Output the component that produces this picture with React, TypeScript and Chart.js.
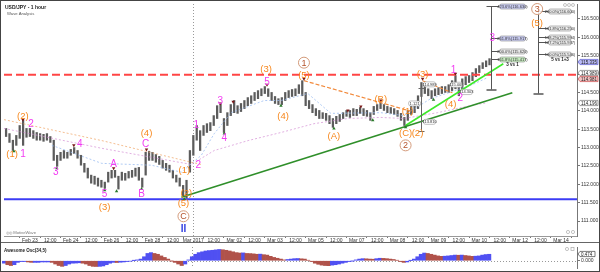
import React, { useEffect, useRef } from 'react';
import { Chart, registerables } from 'chart.js';

Chart.register(...registerables);

const FONT = "'Liberation Sans', Arial, sans-serif";

// ---------- time axis (hour 0 = "Feb 23" label, one label every 12 hours)
const timeLabels = ['Feb 23', '12:00', 'Feb 24', '12:00', 'Feb 26', '12:00', 'Feb 28', '12:00', 'Mar 2017', '12:00', 'Mar 02', '12:00', 'Mar 03', '12:00', 'Mar 05', '12:00', 'Mar 07', '12:00', 'Mar 08', '12:00', 'Mar 09', '12:00', 'Mar 10', '12:00', 'Mar 12', '12:00', 'Mar 14'];
const labelStepHours = 12;
const hourMin = -15.22;
const hourMax = 321.4;
const monthStartHour = 96;

// ---------- price bars (one bar every 2 hours)
const firstBarHour = -14;
const barStepHours = 2;

const barHigh = [
  113.52, 113.38, 113.20, 113.33, 113.60, 113.74, 113.52, 113.52, 113.46, 113.41,
  113.38, 113.36, 113.38, 113.30, 113.20, 112.79, 112.87, 112.92, 112.87, 112.95,
  113.00, 112.92, 112.79, 112.57, 112.44, 112.25, 112.22, 112.17, 112.11, 112.06,
  112.33, 112.38, 112.38, 112.22, 112.33, 112.30, 112.35, 112.38, 112.44, 112.46,
  112.17, 112.87, 112.90, 112.87, 112.81, 112.76, 112.65, 112.57, 112.52, 112.38,
  112.25, 112.17, 111.97, 112.11, 112.92, 113.33, 113.60, 113.46, 113.60, 113.65,
  113.68, 113.87, 114.14, 114.20, 113.79, 113.95, 114.17, 114.28, 114.14, 114.20,
  114.28, 114.36, 114.41, 114.50, 114.55, 114.60, 114.66, 114.60, 114.50, 114.39,
  114.33, 114.36, 114.50, 114.55, 114.58, 114.60, 114.71, 114.82, 114.50, 114.28,
  114.17, 114.06, 114.01, 113.95, 113.93, 113.87, 113.79, 113.85, 113.90, 113.95,
  114.01, 114.01, 114.06, 114.04, 114.09, 114.06, 114.01, 113.95, 114.12, 114.17,
  114.22, 114.17, 114.12, 114.09, 114.06, 114.01, 113.93, 113.82, 114.01, 114.12,
  114.17, 114.41, 114.77, 114.69, 114.60, 114.55, 114.60, 114.63, 114.66, 114.66,
  114.71, 114.82, 114.96, 114.71, 114.87, 114.93, 114.96, 115.04, 115.15, 115.23,
  115.31, 115.36, 115.42,
];
const barLow = [
  113.30, 113.14, 112.92, 113.06, 113.25, 113.06, 113.28, 113.30, 113.25, 113.20,
  113.20, 113.17, 113.20, 113.14, 112.65, 112.49, 112.65, 112.71, 112.71, 112.79,
  112.84, 112.71, 112.52, 112.33, 112.17, 112.03, 112.00, 111.95, 111.92, 111.89,
  112.06, 112.17, 112.19, 111.87, 112.11, 112.11, 112.17, 112.19, 112.22, 112.11,
  111.92, 112.25, 112.65, 112.65, 112.60, 112.54, 112.44, 112.38, 112.33, 112.17,
  112.06, 111.95, 111.68, 111.62, 112.33, 112.79, 113.20, 112.92, 113.33, 113.41,
  113.46, 113.60, 113.79, 113.95, 113.41, 113.60, 113.87, 113.95, 113.93, 113.98,
  114.06, 114.14, 114.20, 114.28, 114.33, 114.41, 114.47, 114.39, 114.28, 114.20,
  114.17, 114.17, 114.28, 114.36, 114.39, 114.41, 114.47, 114.41, 114.14, 114.06,
  113.95, 113.87, 113.79, 113.79, 113.74, 113.65, 113.55, 113.65, 113.71, 113.79,
  113.85, 113.82, 113.87, 113.87, 113.93, 113.87, 113.85, 113.74, 113.90, 114.01,
  114.06, 114.01, 113.95, 113.93, 113.90, 113.85, 113.74, 113.60, 113.74, 113.90,
  113.95, 114.06, 114.39, 114.47, 114.41, 114.33, 114.41, 114.44, 114.47, 114.50,
  114.50, 114.55, 114.60, 114.41, 114.60, 114.71, 114.77, 114.82, 114.93, 115.04,
  115.15, 115.20, 115.25,
];

// ---------- Awesome Oscillator (34,5), same bars
const aoValues = [
  -0.18, -0.29, -0.35, -0.29, -0.12, -0.06, -0.06, -0.09, -0.12, -0.12,
  -0.12, -0.09, -0.09, -0.09, -0.12, -0.24, -0.35, -0.41, -0.35, -0.24,
  -0.18, -0.17, -0.15, -0.18, -0.24, -0.35, -0.41, -0.42, -0.41, -0.38,
  -0.29, -0.18, -0.12, -0.13, -0.11, -0.09, -0.06, -0.03, 0.01, 0.06,
  0.12, 0.29, 0.53, 0.59, 0.53, 0.47, 0.35, 0.24, 0.12, -0.01,
  -0.12, -0.24, -0.35, -0.24, 0.06, 0.29, 0.47, 0.59, 0.65, 0.71,
  0.74, 0.76, 0.79, 0.82, 0.80, 0.76, 0.71, 0.65, 0.59, 0.56,
  0.57, 0.53, 0.52, 0.50, 0.47, 0.48, 0.44, 0.41, 0.32, 0.24,
  0.18, 0.12, 0.06, 0.09, 0.12, 0.15, 0.16, 0.14, 0.12, 0.03,
  -0.06, -0.18, -0.26, -0.32, -0.35, -0.36, -0.32, -0.29, -0.24, -0.18,
  -0.12, -0.06, -0.01, 0.06, 0.12, 0.15, 0.14, 0.12, 0.11, 0.15,
  0.18, 0.17, 0.15, 0.12, 0.09, 0.03, -0.06, -0.12, -0.09, 0.01,
  0.12, 0.29, 0.47, 0.56, 0.53, 0.47, 0.41, 0.35, 0.32, 0.33,
  0.35, 0.38, 0.41, 0.40, 0.41, 0.38, 0.35, 0.32, 0.33, 0.35,
  0.41, 0.45, 0.47,
];
const aoMin = -0.53;
const aoMax = 1.0;
const aoCurrent = 0.474;

// ---------- price axis
const priceTicks = [111, 111.5, 112, 112.5, 113, 113.5, 114, 114.5, 115, 115.5, 116, 116.5];
const priceMin = 110.593;
const priceMax = 116.907;

const resistanceLevel = 114.98;
const supportLevel = 111.595;

// moving averages [hour, price]
const maOrange = [[-15.2, 113.76], [42.2, 113.19], [94.8, 112.6], [100.7, 112.54]];
const maPurple = [[-15.2, 113.52], [42.2, 112.98], [94.8, 112.54], [108.3, 112.92], [128.2, 113.19], [147.5, 113.41], [166.9, 113.65], [186.8, 113.79], [206.1, 113.82], [219.6, 113.79], [239.5, 113.95], [258.8, 114.14], [268.7, 114.22]];
const maBlue = [[12.9, 113.06], [42.2, 112.57], [71.4, 112.52], [89.0, 112.33], [100.7, 112.79], [108.3, 113.38], [118.3, 113.95], [137.6, 114.28], [147.5, 114.28], [163.3, 114.47], [176.8, 113.93], [206.1, 113.95], [219.6, 113.87], [235.4, 114.33], [258.8, 114.69], [268.7, 114.9]];

// trend lines [hour, price]
const trendMain = [[89.0, 111.65], [283.4, 114.49]];
const trendFast = [[220.7, 113.6], [278.1, 115.28]];
const trendCorrA = [[161.0, 114.82], [223.7, 113.99]];
const trendCorrB = [[230.7, 114.82], [248.2, 114.49]];

// swing markers [hour, price]
const highMarks = [[-4.1, 113.76], [25.8, 113.06], [49.2, 112.44], [68.5, 112.95], [111.8, 114.2], [119.4, 114.25], [139.3, 114.71], [161.0, 114.87], [186.8, 114.01], [194.4, 114.12], [206.1, 114.28], [230.7, 114.87], [250.0, 115.01]];
const lowMarks = [[-9.4, 112.9], [15.8, 112.44], [43.9, 111.84], [50.9, 111.81], [65.6, 111.87], [90.7, 111.6], [114.2, 113.38], [147.5, 114.14], [178.6, 113.52], [201.4, 113.74], [220.7, 113.55], [237.1, 114.3]];

// wave labels [text, hour, price, kind] kind: o=orange, m=magenta, c=circled, b=blue
const waveLabels = [
  ['(1)', -10.5, 112.84, 'o'], ['1', -4.1, 112.84, 'm'], ['(2)', -4.1, 113.87, 'o'], ['2', 0.6, 113.65, 'm'],
  ['3', 15.2, 112.35, 'm'], ['4', 29.3, 113.11, 'm'], ['5', 43.9, 111.73, 'm'], ['(3)', 43.9, 111.38, 'o'],
  ['A', 49.2, 112.57, 'm'], ['B', 65.6, 111.73, 'm'], ['C', 67.9, 113.11, 'm'], ['(4)', 68.5, 113.41, 'o'],
  ['(1)', 90.7, 112.38, 'o'], ['(2)', 91.9, 111.78, 'o'], ['(5)', 90.2, 111.49, 'o'], ['C', 90.2, 111.13, 'c'], ['II', 90.2, 110.78, 'b'],
  ['1', 97.8, 113.63, 'm'], ['2', 98.9, 112.54, 'm'], ['3', 111.8, 114.28, 'm'], ['4', 114.2, 113.28, 'm'],
  ['(3)', 138.8, 115.14, 'o'], ['5', 139.3, 114.79, 'm'], ['(4)', 148.7, 113.87, 'o'],
  ['1', 161.0, 115.31, 'c'], ['(5)', 161.0, 114.98, 'o'], ['(A)', 178.6, 113.33, 'o'], ['(B)', 206.1, 114.33, 'o'],
  ['(1)', 221.9, 114.01, 'o'], ['(C)', 220.7, 113.41, 'o'], ['(2)', 227.7, 113.41, 'o'], ['2', 220.7, 113.06, 'c'],
  ['(3)', 230.7, 115.01, 'o'], ['(4)', 247.1, 114.2, 'o'], ['1', 248.8, 115.12, 'm'], ['2', 252.9, 114.36, 'm'],
  ['3', 271.7, 115.985, 'm'], ['3', 298.0, 116.77, 'c'], ['(5)', 298.0, 116.39, 'o'],
];

// Fibonacci projection tools
const fibLeftHour = 271.1;
const fibLeftTop = 116.85;
const fibLeftBottom = 114.58;
const fibLeftLevels = [[116.85, '423.6%(116.630)', '#c9ccf2'], [115.985, '261.8%(115.917)', '#c9ccf2'], [115.63, '200.0%(115.620)', '#ececec'], [115.42, '161.8%(115.417)', '#c9efc2']];
const fibLeftNote = ['3 vs 1', 115.255];
const fibRightHour = 298.6;
const fibRightTop = 116.72;
const fibRightBottom = 114.47;
const fibRightLevels = [[116.72, '200.0%(116.600)', '#ececec'], [116.26, '161.8%(116.250)', '#ececec'], [116.01, '138.2%(115.994)', '#ececec'], [115.88, '127.2%(115.937)', '#ececec'], [115.55, '100.0%(115.546)', '#ececec']];
const fibRightNote = ['5 vs 1+3', 115.39];

// small price boxes in wave (3)/(4)
const measureHour = 229.5;
const measureTop = 114.63;
const measureBottom = 113.46;
const priceBoxes = [[234.8, 114.72, '114.989'], [226.0, 114.2, '1.121'], [234.8, 113.7, '113.810'], [250.6, 114.71, '115.008'], [256.4, 114.51, '114.303']];

// tags on the price axis [price, text, fill, stroke]
const axisTags = [[115.335, '115.335', '#b9b9f5', '#5a5ad0'], [115.04, '114.989', '#ffffff', '#777777'], [114.87, '114.981', '#f3c3c3', '#cc4a4a'], [114.2, '114.196', '#ffffff', '#777777']];

const ORANGE = '#f7871c';
const MAGENTA = '#f23cf2';
const BROWN = '#b4532b';

function roundRect(ctx, x, y, w, h, r) {
  ctx.beginPath();
  ctx.moveTo(x + r, y);
  ctx.lineTo(x + w - r, y);
  ctx.arcTo(x + w, y, x + w, y + r, r);
  ctx.lineTo(x + w, y + h - r);
  ctx.arcTo(x + w, y + h, x + w - r, y + h, r);
  ctx.lineTo(x + r, y + h);
  ctx.arcTo(x, y + h, x, y + h - r, r);
  ctx.lineTo(x, y + r);
  ctx.arcTo(x, y, x + r, y, r);
  ctx.closePath();
}

function drawBox(ctx, x, yc, w, text, fill, stroke) {
  const h = 5;
  roundRect(ctx, x, yc - h / 2, w, h, 2);
  ctx.fillStyle = fill;
  ctx.fill();
  ctx.strokeStyle = stroke;
  ctx.lineWidth = 0.6;
  ctx.stroke();
  ctx.fillStyle = '#333';
  ctx.font = `4px ${FONT}`;
  ctx.textAlign = 'center';
  ctx.textBaseline = 'middle';
  ctx.fillText(text, x + w / 2, yc + 0.3);
}

function drawFib(ctx, px, py, hour, top, bottom, levels, note, boxOffset, boxWidth, topCap) {
  const x0 = Math.round(px(hour)) + 0.5;
  ctx.strokeStyle = '#555';
  ctx.lineWidth = 1;
  ctx.setLineDash([]);
  ctx.beginPath();
  ctx.moveTo(x0, py(top));
  ctx.lineTo(x0, py(bottom));
  if (topCap) {
    ctx.moveTo(x0 - 5, Math.round(py(top)) + 0.5);
    ctx.lineTo(x0 + 5, Math.round(py(top)) + 0.5);
  }
  ctx.stroke();
  ctx.lineWidth = 1.5;
  ctx.beginPath();
  ctx.moveTo(x0 - 5, Math.round(py(bottom)));
  ctx.lineTo(x0 + 5, Math.round(py(bottom)));
  ctx.stroke();
  levels.forEach(([p, text, fill]) => {
    const y = Math.round(py(p)) + 0.5;
    ctx.strokeStyle = '#555';
    ctx.lineWidth = 1;
    ctx.beginPath();
    ctx.moveTo(x0, y);
    ctx.lineTo(x0 + boxOffset, y);
    ctx.stroke();
    drawBox(ctx, x0 + boxOffset, y, boxWidth, text, fill, '#8a8a8a');
  });
  ctx.fillStyle = '#222';
  ctx.font = `bold 4.5px ${FONT}`;
  ctx.textAlign = 'center';
  ctx.textBaseline = 'middle';
  ctx.fillText(note[0], x0 + boxOffset + boxWidth / 2, py(note[1]));
}

const mainOverlay = {
  id: 'mainOverlay',
  beforeDatasetsDraw(chart) {
    const { ctx, chartArea: a, scales } = chart;
    const x = Math.round(scales.x.getPixelForValue(monthStartHour)) + 0.5;
    ctx.save();
    ctx.strokeStyle = '#9a9a9a';
    ctx.lineWidth = 1;
    ctx.setLineDash([1, 2]);
    ctx.beginPath();
    ctx.moveTo(x, a.top);
    ctx.lineTo(x, a.bottom);
    ctx.stroke();
    ctx.restore();
  },
  afterDatasetsDraw(chart) {
    const { ctx, chartArea: a, scales } = chart;
    const px = (h) => scales.x.getPixelForValue(h);
    const py = (p) => scales.y.getPixelForValue(p);
    ctx.save();

    // title
    ctx.textAlign = 'left';
    ctx.textBaseline = 'alphabetic';
    ctx.fillStyle = '#222';
    ctx.font = `bold 5px ${FONT}`;
    ctx.fillText('USD/JPY - 1 hour', a.left + 1, a.top + 5);
    ctx.fillStyle = '#555';
    ctx.font = `4.2px ${FONT}`;
    ctx.fillText('Wave Analysis', a.left + 3, a.top + 10.5);
    ctx.fillStyle = '#777';
    ctx.font = `4.2px ${FONT}`;
    ctx.fillText('\u25CE\u25CE MotiveWave', a.left + 2, a.bottom - 2);

    // measurement in wave (3)
    const mx = Math.round(px(measureHour)) + 0.5;
    ctx.strokeStyle = '#666';
    ctx.lineWidth = 1;
    ctx.beginPath();
    ctx.moveTo(mx, py(measureTop));
    ctx.lineTo(mx, py(measureBottom));
    ctx.moveTo(mx - 3, Math.round(py(measureTop)) + 0.5);
    ctx.lineTo(mx + 3, Math.round(py(measureTop)) + 0.5);
    ctx.moveTo(mx - 3, Math.round(py(measureBottom)) + 0.5);
    ctx.lineTo(mx + 3, Math.round(py(measureBottom)) + 0.5);
    ctx.stroke();
    priceBoxes.forEach(([h, p, t]) => {
      drawBox(ctx, px(h) - 6, py(p), 12, t, '#ffffff', '#999');
    });

    // fib tools
    drawFib(ctx, px, py, fibLeftHour, fibLeftTop, fibLeftBottom, fibLeftLevels, fibLeftNote, 8, 26, true);
    drawFib(ctx, px, py, fibRightHour, fibRightTop, fibRightBottom, fibRightLevels, fibRightNote, 10, 23, false);

    // wave labels
    waveLabels.forEach(([t, h, p, k]) => {
      const x = px(h);
      const y = py(p);
      ctx.textAlign = 'center';
      ctx.textBaseline = 'middle';
      if (k === 'c') {
        ctx.fillStyle = 'rgba(255,255,255,0.85)';
        ctx.beginPath();
        ctx.arc(x, y, 5.5, 0, Math.PI * 2);
        ctx.fill();
        ctx.strokeStyle = '#d39a7a';
        ctx.lineWidth = 1;
        ctx.stroke();
        ctx.fillStyle = BROWN;
        ctx.font = `9px ${FONT}`;
        ctx.fillText(t, x, y + 0.5);
      } else if (k === 'o') {
        ctx.fillStyle = ORANGE;
        ctx.font = `9.5px ${FONT}`;
        ctx.fillText(t, x, y + 0.5);
      } else if (k === 'm') {
        ctx.fillStyle = MAGENTA;
        ctx.font = `10px ${FONT}`;
        ctx.fillText(t, x, y + 0.5);
      } else {
        ctx.fillStyle = '#3340e0';
        ctx.font = `bold 10px ${FONT}`;
        ctx.fillText(t, x, y + 0.5);
      }
    });

    // corner icons
    ctx.strokeStyle = '#aaa';
    ctx.lineWidth = 0.7;
    [a.right - 12, a.right - 8, a.right - 4].forEach((cx) => {
      ctx.beginPath();
      ctx.arc(cx, a.top + 1, 1.5, 0, Math.PI * 2);
      ctx.stroke();
    });
    [a.right - 9, a.right - 4].forEach((cx) => {
      ctx.beginPath();
      ctx.arc(cx, a.bottom - 4, 1.6, 0, Math.PI * 2);
      ctx.stroke();
    });

    // axis tags
    axisTags.forEach(([p, t, fill, stroke]) => {
      const y = Math.round(py(p));
      ctx.beginPath();
      ctx.moveTo(a.right + 1, y);
      ctx.lineTo(a.right + 3, y - 2.6);
      ctx.lineTo(a.right + 21, y - 2.6);
      ctx.lineTo(a.right + 21, y + 2.6);
      ctx.lineTo(a.right + 3, y + 2.6);
      ctx.closePath();
      ctx.fillStyle = fill;
      ctx.fill();
      ctx.strokeStyle = stroke;
      ctx.lineWidth = 0.7;
      ctx.stroke();
      ctx.fillStyle = '#222';
      ctx.font = `4.5px ${FONT}`;
      ctx.textAlign = 'left';
      ctx.textBaseline = 'middle';
      ctx.fillText(t, a.right + 4, y + 0.3);
    });
    ctx.restore();
  },
};

const aoOverlay = {
  id: 'aoOverlay',
  beforeDatasetsDraw(chart) {
    const { ctx, chartArea: a, scales } = chart;
    const y0 = Math.round(scales.y.getPixelForValue(0)) + 0.5;
    const xm = Math.round(scales.x.getPixelForValue(monthStartHour)) + 0.5;
    ctx.save();
    ctx.strokeStyle = '#999';
    ctx.lineWidth = 1;
    ctx.setLineDash([1, 2]);
    ctx.beginPath();
    ctx.moveTo(a.left, y0);
    ctx.lineTo(a.right, y0);
    ctx.moveTo(xm, a.top);
    ctx.lineTo(xm, a.bottom);
    ctx.stroke();
    ctx.restore();
  },
  afterDatasetsDraw(chart) {
    const { ctx, chartArea: a, scales } = chart;
    ctx.save();
    ctx.fillStyle = '#222';
    ctx.font = `bold 4.5px ${FONT}`;
    ctx.textAlign = 'left';
    ctx.textBaseline = 'alphabetic';
    ctx.fillText('Awesome Osc(34,5)', a.left + 2, a.top + 5);
    ctx.strokeStyle = '#aaa';
    ctx.lineWidth = 0.7;
    ctx.beginPath();
    ctx.arc(a.right - 10, a.top + 2, 1.6, 0, Math.PI * 2);
    ctx.stroke();
    ctx.strokeRect(a.right - 6, a.top + 0.5, 3, 3);
    const y = Math.round(scales.y.getPixelForValue(aoCurrent));
    ctx.beginPath();
    ctx.moveTo(a.right + 1, y);
    ctx.lineTo(a.right + 3, y - 2.6);
    ctx.lineTo(a.right + 18, y - 2.6);
    ctx.lineTo(a.right + 18, y + 2.6);
    ctx.lineTo(a.right + 3, y + 2.6);
    ctx.closePath();
    ctx.fillStyle = '#fff';
    ctx.fill();
    ctx.strokeStyle = '#444';
    ctx.stroke();
    ctx.fillStyle = '#222';
    ctx.font = `4.5px ${FONT}`;
    ctx.textBaseline = 'middle';
    ctx.fillText(aoCurrent.toFixed(3), a.right + 4, y + 0.3);
    ctx.restore();
  },
};

const pts = (arr) => arr.map(([h, p]) => ({ x: h, y: p }));

export default function App() {
  const mainRef = useRef(null);
  const aoRef = useRef(null);

  useEffect(() => {
    const hours = barHigh.map((_, i) => firstBarHour + barStepHours * i);
    const tickFont = { size: 5, family: FONT };

    const main = new Chart(mainRef.current, {
      type: 'bar',
      data: {
        datasets: [
          { type: 'line', data: pts(highMarks), showLine: false, pointStyle: 'triangle', rotation: 180, pointRadius: 2, backgroundColor: '#7a1a1a', borderWidth: 0, order: 1 },
          { type: 'line', data: pts(lowMarks), showLine: false, pointStyle: 'triangle', pointRadius: 2, backgroundColor: '#2a7a2a', borderWidth: 0, order: 1 },
          { type: 'line', data: pts(trendMain), borderColor: '#2f8f2a', borderWidth: 1.6, pointRadius: 0, order: 2 },
          { type: 'line', data: pts(trendFast), borderColor: '#3ee82a', borderWidth: 1.6, pointRadius: 0, order: 2 },
          { type: 'line', data: pts(trendCorrA), borderColor: '#f28a3c', borderWidth: 1.2, borderDash: [4, 2], pointRadius: 0, order: 2 },
          { type: 'line', data: pts(trendCorrB), borderColor: '#f28a3c', borderWidth: 1.2, borderDash: [4, 2], pointRadius: 0, order: 2 },
          { type: 'line', data: [{ x: hourMin, y: resistanceLevel }, { x: hourMax, y: resistanceLevel }], borderColor: '#ff4545', borderWidth: 2, borderDash: [8, 4], pointRadius: 0, order: 3 },
          { type: 'line', data: [{ x: hourMin, y: supportLevel }, { x: hourMax, y: supportLevel }], borderColor: '#3c3cf5', borderWidth: 2, pointRadius: 0, order: 3 },
          { type: 'line', data: pts(maOrange), borderColor: 'rgba(240,170,110,0.75)', borderWidth: 1, borderDash: [2, 2], pointRadius: 0, order: 8 },
          { type: 'line', data: pts(maPurple), borderColor: 'rgba(215,150,215,0.75)', borderWidth: 1, borderDash: [2, 2], pointRadius: 0, order: 8 },
          { type: 'line', data: pts(maBlue), borderColor: 'rgba(150,185,240,0.75)', borderWidth: 1, borderDash: [2, 2], pointRadius: 0, order: 8 },
          { type: 'bar', data: hours.map((h, i) => ({ x: h, y: [barLow[i], barHigh[i]] })), backgroundColor: '#5c5c5c', barThickness: 1.6, order: 9 },
        ],
      },
      options: {
        animation: false,
        responsive: false,
        maintainAspectRatio: false,
        layout: { padding: { left: 2, top: 3, right: 0, bottom: 0 } },
        plugins: { legend: { display: false }, tooltip: { enabled: false } },
        scales: {
          x: {
            type: 'linear',
            min: hourMin,
            max: hourMax,
            offset: false,
            afterBuildTicks: (s) => { s.ticks = timeLabels.map((_, i) => ({ value: i * labelStepHours })); },
            afterFit: (s) => { s.height = 7; },
            ticks: { font: tickFont, color: '#333', padding: 0, maxRotation: 0, autoSkip: false, callback: (v) => timeLabels[Math.round(v / labelStepHours)] ?? '' },
            grid: { display: true, drawOnChartArea: false, drawTicks: true, tickLength: 2, color: '#777' },
            border: { display: true, color: '#999' },
          },
          y: {
            type: 'linear',
            position: 'right',
            min: priceMin,
            max: priceMax,
            afterBuildTicks: (s) => { s.ticks = priceTicks.map((v) => ({ value: v })); },
            afterFit: (s) => { s.width = 23; },
            ticks: { font: tickFont, color: '#333', padding: 1, callback: (v) => Number(v).toFixed(3) },
            grid: { display: true, drawOnChartArea: false, drawTicks: true, tickLength: 3, color: '#777' },
            border: { display: true, color: '#777', dash: [1, 1] },
          },
        },
      },
      plugins: [mainOverlay],
    });

    const aoColors = aoValues.map((v, i) => (i > 0 && v < aoValues[i - 1] ? '#b0524a' : '#5050f2'));
    const ao = new Chart(aoRef.current, {
      type: 'bar',
      data: {
        datasets: [
          { data: hours.map((h, i) => ({ x: h, y: aoValues[i] })), backgroundColor: aoColors, barPercentage: 1, categoryPercentage: 1, borderWidth: 0 },
        ],
      },
      options: {
        animation: false,
        responsive: false,
        maintainAspectRatio: false,
        layout: { padding: { left: 2, top: 1, right: 0, bottom: 2 } },
        plugins: { legend: { display: false }, tooltip: { enabled: false } },
        scales: {
          x: { type: 'linear', min: hourMin, max: hourMax, offset: false, display: false },
          y: {
            type: 'linear',
            position: 'right',
            min: aoMin,
            max: aoMax,
            afterBuildTicks: (s) => { s.ticks = [{ value: 0 }]; },
            afterFit: (s) => { s.width = 23; },
            ticks: { font: tickFont, color: '#333', padding: 1, callback: (v) => Number(v).toFixed(3) },
            grid: { display: true, drawOnChartArea: false, drawTicks: true, tickLength: 3, color: '#777' },
            border: { display: true, color: '#777', dash: [1, 1] },
          },
        },
      },
      plugins: [aoOverlay],
    });

    return () => {
      main.destroy();
      ao.destroy();
    };
  }, []);

  return (
    <div style={{ position: 'fixed', left: 0, top: 0, width: 600, height: 272, background: '#fff', overflow: 'hidden' }}>
      <canvas ref={mainRef} width={600} height={243} style={{ position: 'absolute', left: 0, top: 0, width: 600, height: 243 }} />
      <canvas ref={aoRef} width={600} height={29} style={{ position: 'absolute', left: 0, top: 243, width: 600, height: 29 }} />
      <div style={{ position: 'absolute', left: 0, top: 242, width: 600, height: 1, background: '#666' }} />
      <div style={{ position: 'absolute', left: 0, top: 0, width: 600, height: 272, boxSizing: 'border-box', border: '1px solid #444', pointerEvents: 'none' }} />
    </div>
  );
}
